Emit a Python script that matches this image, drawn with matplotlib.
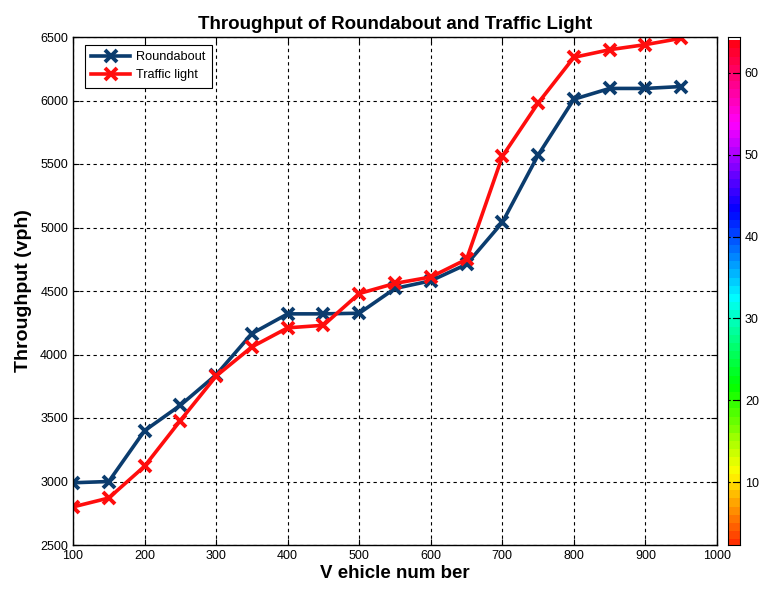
import matplotlib
matplotlib.use('Agg')
import matplotlib.pyplot as plt
import numpy as np
from matplotlib.colors import ListedColormap

plt.rcParams['font.family'] = ['Liberation Sans', 'DejaVu Sans']

# datos
vehiculos = [100, 150, 200, 250, 300, 350, 400, 450, 500, 550, 600, 650, 700, 750, 800, 850, 900, 950]
roundabout = [2990, 3000, 3400, 3600, 3840, 4165, 4320, 4320, 4325, 4520, 4580, 4710,
              5040, 5570, 6010, 6095, 6095, 6110]
traffic_light = [2800, 2870, 3120, 3480, 3830, 4060, 4210, 4230, 4480, 4560, 4610, 4750,
                 5560, 5980, 6340, 6400, 6440, 6490]

xticks = [100, 200, 300, 400, 500, 600, 700, 800, 900, 1000]
yticks = [2500, 3000, 3500, 4000, 4500, 5000, 5500, 6000, 6500]
cbar_ticks = [10, 20, 30, 40, 50, 60]
niveles = np.arange(0, 65)

fig = plt.figure(figsize=(7.65, 5.9), dpi=100)
W, H = 765, 590
ax = fig.add_axes([73 / W, 1 - 545 / H, (717 - 73) / W, (545 - 37) / H])
cax = fig.add_axes([728 / W, 1 - 545 / H, 12 / W, (545 - 37) / H])

ax.plot(vehiculos, roundabout, color='#0b3c6e', lw=2.6, marker='x', ms=8, mew=2.8,
        label='Roundabout')
ax.plot(vehiculos, traffic_light, color='#ff0d0d', lw=2.6, marker='x', ms=8, mew=2.8,
        label='Traffic light')

ax.set_xlim(100, 1000)
ax.set_ylim(2500, 6500)
ax.set_xticks(xticks)
ax.set_yticks(yticks)
ax.tick_params(direction='in', labelsize=9, length=4, top=True, right=True)
ax.grid(True, color='black', linestyle=(0, (3, 3)), linewidth=0.8)
for s in ax.spines.values():
    s.set_linewidth(1.0)

ax.set_title('Throughput of Roundabout and Traffic Light', fontsize=13.5, fontweight='bold')
ax.set_xlabel('V ehicle num ber', fontsize=13.5, fontweight='bold', labelpad=2)
ax.set_ylabel('Throughput (vph)', fontsize=14, fontweight='bold', labelpad=6)

leg = ax.legend(loc='upper left', fontsize=9.2, fancybox=False, edgecolor='black',
                framealpha=1, handlelength=3.0, borderpad=0.5, labelspacing=0.45,
                handletextpad=0.5, borderaxespad=0, bbox_to_anchor=(12 / 644, 1 - 8 / 508))
leg.get_frame().set_linewidth(0.8)

# barra de color (hsv, 64 niveles)
cmap = ListedColormap(plt.get_cmap('hsv')(np.linspace(0, 1, 64)))
cax.pcolormesh([0, 1], niveles, (niveles[:-1] + 0.5).reshape(-1, 1), cmap=cmap,
               vmin=0, vmax=64)
cax.set_xlim(0, 1)
cax.set_ylim(2.3, 64.4)
cax.set_xticks([])
cax.yaxis.tick_right()
cax.set_yticks(cbar_ticks)
cax.tick_params(direction='in', labelsize=9, length=4)
for y in cbar_ticks:
    cax.plot([0, 1], [y, y], color='black', linestyle=(0, (2, 2)), linewidth=0.8)

fig.savefig('out.png', dpi=100)
